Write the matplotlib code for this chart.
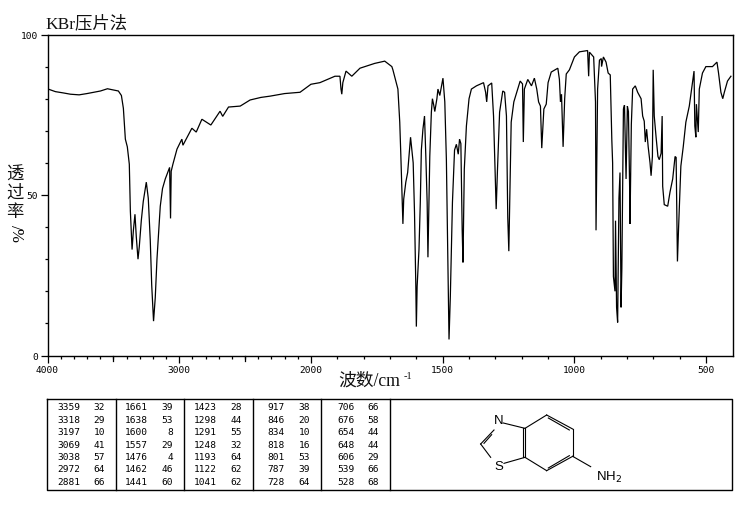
import numpy as np
import matplotlib
matplotlib.use("Agg")
import matplotlib.pyplot as plt

wavenumber = [3995,3940,3880,3826,3760,3700,3650,3598,3545,3462,3439,3424,3409,3400,3394,3379,3371,3358,3348,3336,3326,3313,3303,3288,3273,3250,3235,3220,3209,3195,3182,3169,3144,3127,3106,3073,3066,3061,3048,3017,2980,2972,2904,2871,2828,2760,2690,2670,2626,2537,2462,2380,2310,2200,2083,2000,
1966,1909,1890,1886,1883,1879,1867,1845,1814,1758,1720,1693,1689,1670,1663,1659,1651,1648,1640,1633,1622,1612,1607,1602,1600,1597,1590,1585,1581,1575,1569,1564,1559,1556,1552,1549,1543,1539,1534,1530,1522,1518,1511,1499,1492,1486,1480,1476,1471,1463,1455,1448,1441,1436,1431,1426,1423,1418,1410,1400,1391,1372,1345,1337,1333,1328,1314,1307,1299,1297,1292,1284,1272,1265,1258,1253,1249,1240,1230,1215,1206,1197,1194,1190,1177,1163,1152,1143,1136,1129,1124,1116,1107,1100,1088,1063,1057,1053,1049,1043,1037,1031,1019,1000,981,950,946,943,927,920,918,912,905,898,897,890,880,872,864,858,855,852,846,844,840,836,831,827,823,820,814,810,804,799,795,790,789,784,779,769,760,747,741,735,731,726,720,713,709,704,701,697,690,683,678,671,667,665,659,646,637,627,618,614,611,609,605,596,587,577,564,552,546,543,539,537,530,526,514,501,476,459,453,444,437,431,419,406]
transmittance = [83,82.2,81.8,81.4,81.2,81.6,82,82.4,83.1,82.4,81,77,67.4,66,65,59.6,45,33,39,44,37,30,34,42,48,54,49,36,22,10.7,18,30,46.5,52,55,58.6,42.7,57.4,59.6,64.3,67.4,65.5,70.8,69.6,73.6,71.8,76.1,74.5,77.4,77.7,79.6,80.4,80.8,81.6,82,84.5,
85,87,87,83,81.4,85,88.6,87,89.5,91,91.7,90,89,83,72.7,62.7,41,48.7,54,57,68,60,44.6,21.6,9,21.6,33,47.7,64,70.5,74.6,62,47.7,30.6,47.7,62,75.8,80,78,76,80,83,81,86.4,79,61,26.8,5,18.4,47.7,64,65.8,62.7,67.4,66,39,29,58,71.5,80,83,84,85,82,79,84,84.9,74.6,51,45.6,58,75.8,82.4,82,74.6,43,32.5,72.7,79,83,85.5,84.6,66.5,83,86,84,86.4,83,79,77.7,64.6,76.8,78.3,85,88.3,89.5,86,79,81.4,65,80,87.7,89,93,94.6,95,87,94.5,93,79,39,83,92,92.5,90,93,91.4,88,87.4,67,60,24.6,20,42,15,10.3,49,57,15,27,76.8,78,55,77.7,76,50,41,72,83,84,82,80,74.6,73,66.5,70.5,65,60,56,62,89,74.6,68,62,61,63,74.6,52.7,47,46.5,51,55,62,61.7,43,29.3,39,59,65,72.7,77.7,85,88.6,71.5,68,78.3,69.6,83,88,90,90,91.4,88,82,80,82,85.5,87]

peak_wn = [[3359,3318,3197,3069,3038,2972,2881],[1661,1638,1600,1557,1476,1462,1441],[1423,1298,1291,1248,1193,1122,1041],[917,846,834,818,801,787,728],[706,676,654,648,606,539,528]]
peak_t = [[32,29,10,41,57,64,66],[39,53,8,29,4,46,60],[28,44,55,32,64,62,62],[38,20,10,16,53,39,64],[66,58,44,44,29,66,68]]

W, H = 737, 510
fig = plt.figure(figsize=(W/100, H/100), dpi=100, facecolor='white')
ax = fig.add_axes([47.5/W, 1-356.5/H, 685/W, 321/H])

def forward(v):
    v = np.asarray(v, dtype=float)
    return np.where(v <= 2000, v, 2000+(v-2000)*0.5)
def inverse(v):
    v = np.asarray(v, dtype=float)
    return np.where(v <= 2000, v, 2000+(v-2000)*2)
ax.set_xscale('function', functions=(forward, inverse))
ax.plot(wavenumber, transmittance, color='black', lw=0.9, solid_joinstyle='miter')
ax.set_xlim(4000, 400)
ax.set_ylim(0, 100)
for s in ax.spines.values():
    s.set_linewidth(1.0)
mono = 'DejaVu Sans Mono'
ax.set_xticks([4000,3000,2000,1500,1000,500])
ax.set_xticklabels(['4000','3000','2000','1500','1000','500'], fontsize=6.8, family=mono)
ax.set_xticks([v for v in range(500,4000,100) if v not in (3000,2000,1500,1000,500)], minor=True)
ax.set_yticks([0,50,100])
ax.set_yticklabels(['0','50','100'], fontsize=6.8, family=mono)
ax.set_yticks([10,20,30,40,60,70,80,90], minor=True)
ax.tick_params(axis='x', which='major', length=5, width=0.9, pad=2)
ax.tick_params(axis='x', which='minor', length=2.5, width=0.9)
ax.tick_params(axis='y', which='major', length=5, width=0.9, pad=2)
ax.tick_params(axis='y', which='minor', length=2.5, width=0.9)
for v in (3500, 2500):
    ax.plot([v, v], [0, -5/3.21], color='black', lw=0.9, clip_on=False)

ov = fig.add_axes([0, 0, 1, 1], facecolor='none')
ov.set_xlim(0, W); ov.set_ylim(H, 0); ov.axis('off')
cjk = ['Liberation Serif', 'Noto Sans CJK SC']
ov.text(45, 24, 'KBr压片法', family=cjk, fontsize=12.5, ha='left', va='center', color='#111111')
ov.text(338, 381.5, '波数/cm', family=cjk, fontsize=12.8, ha='left', va='center', color='#111111')
ov.text(404, 376.5, '-1', family='Liberation Serif', fontsize=7.5, ha='left', va='center', color='#111111')
for ch, y in zip('透过率', (175, 193, 212)):
    ov.text(15, y, ch, family='Noto Sans CJK SC', fontsize=12.5, ha='center', va='center', color='#111111')
ov.text(15, 227, '/', family='Liberation Serif', fontsize=12, rotation=-90, ha='center', va='center')
ov.text(15, 235, '%', family='Liberation Serif', fontsize=12, rotation=-90, ha='center', va='center')

# peak table
ov.plot([47.5,732,732,47.5,47.5],[399.5,399.5,491,491,399.5],color='black',lw=1)
for x in (116.5,184.5,253.5,321.5,390.5):
    ov.plot([x,x],[399.5,491],color='black',lw=1)
rows_y = [408,421,433,446,458,470,483]
wn_right = [80,148,217,285,355]
t_right = [105,173,242,310,379]
for c in range(5):
    for r, y in enumerate(rows_y):
        ov.text(wn_right[c], y, str(peak_wn[c][r]), family=mono, fontsize=6.8, ha='right', va='center')
        ov.text(t_right[c], y, str(peak_t[c][r]), family=mono, fontsize=6.8, ha='right', va='center')

# structure
def Z(x, y):
    return 380+x/3, 395+y/3
bonds = [((435,103),(500,63)),((500,63),(578,105)),((578,105),(578,187)),((578,187),(500,230)),
         ((500,230),(435,190)),((435,190),(435,103)),((428,190),(428,103)),
         ((505,72),(568,108)),((505,222),(568,185)),((578,187),(632,218)),
         ((370,87),(435,103)),((342,108),(302,150)),((335,122),(312,148)),
         ((302,150),(332,190)),((372,208),(435,190))]
for a, b in bonds:
    p, q = Z(*a), Z(*b)
    ov.plot([p[0],q[0]],[p[1],q[1]],color='black',lw=0.8)
ov.text(*Z(357,78), 'N', fontsize=9.5, ha='center', va='center', family='Liberation Sans')
ov.text(*Z(357,217), 'S', fontsize=9.5, ha='center', va='center', family='Liberation Sans')
ov.text(*Z(648,247), 'NH$_2$', fontsize=9.5, ha='left', va='center', family='Liberation Sans')
ov.set_xlim(0, W); ov.set_ylim(H, 0)
fig.savefig('out.png', dpi=100, facecolor='white')
